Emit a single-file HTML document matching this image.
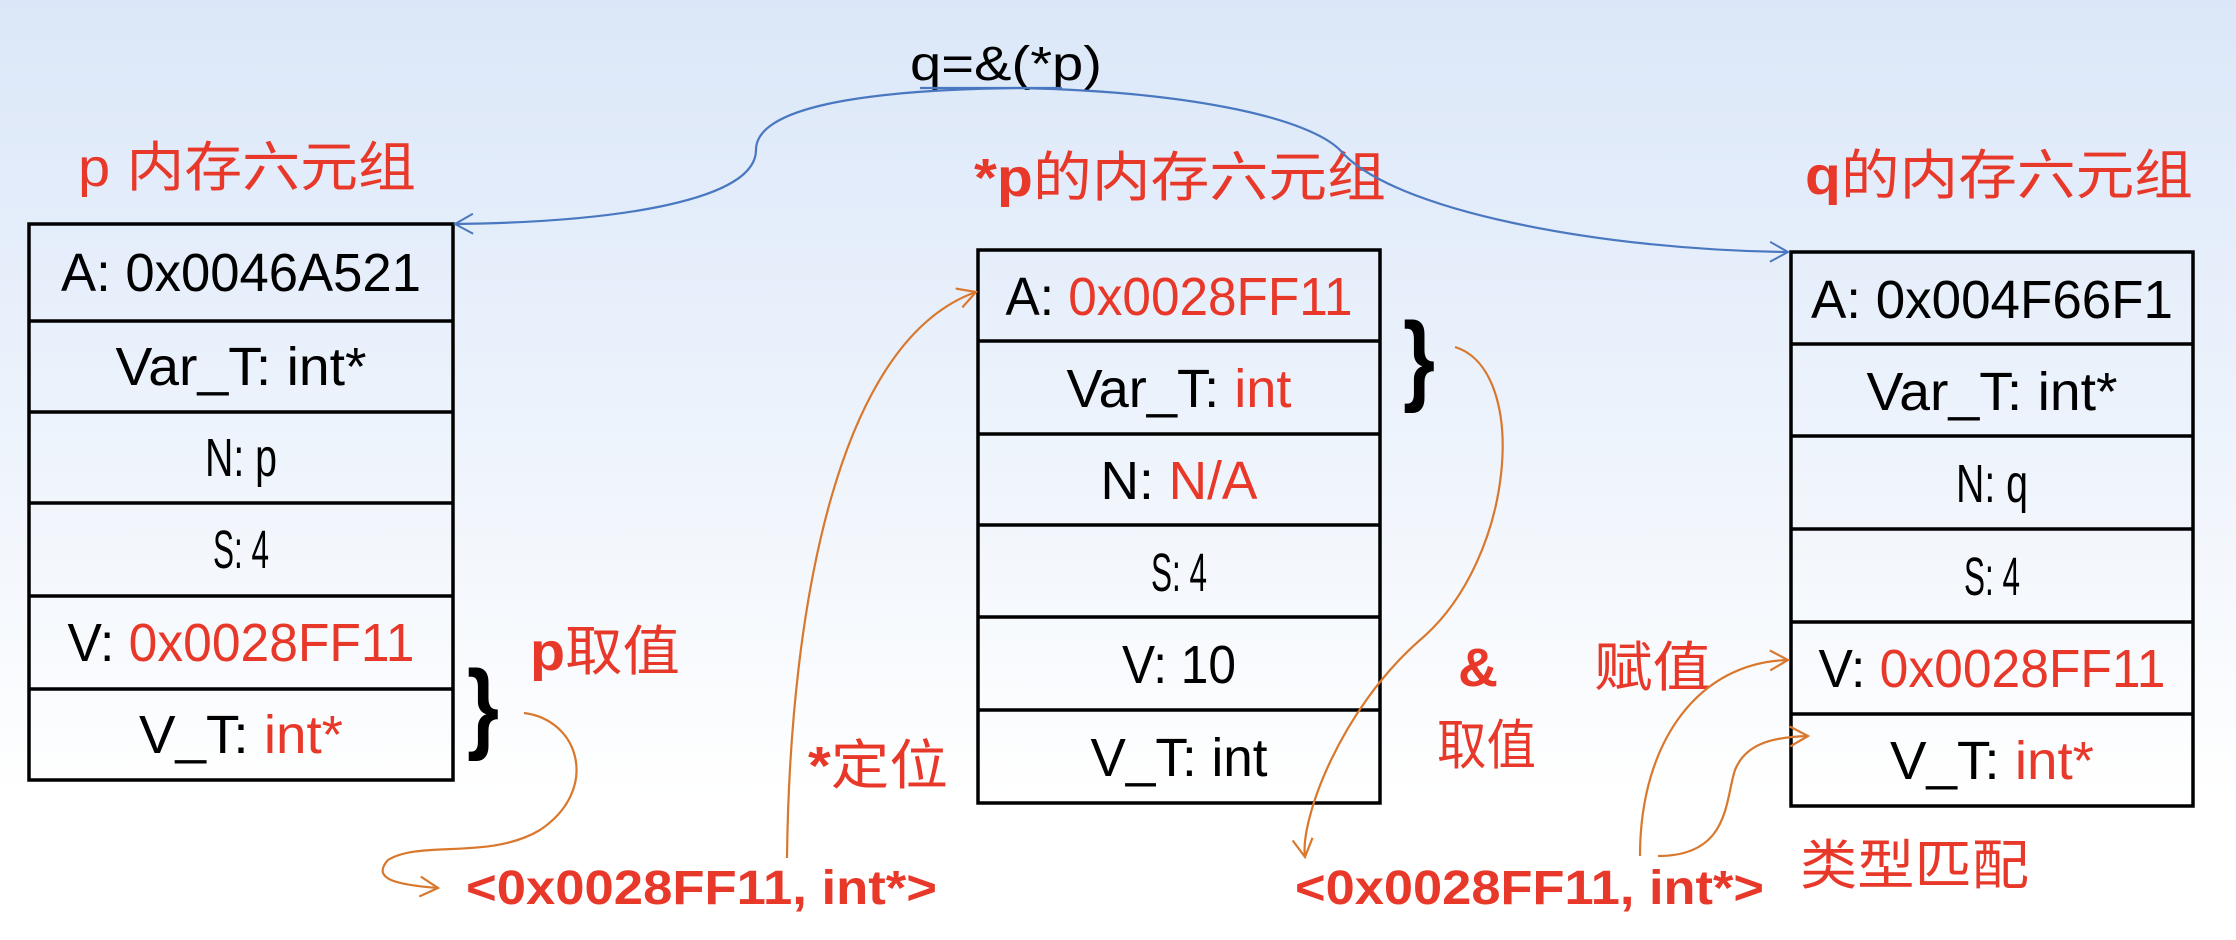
<!DOCTYPE html>
<html><head><meta charset="utf-8"><style>
html,body{margin:0;padding:0;}
body{width:2236px;height:940px;overflow:hidden;background:linear-gradient(180deg,#dbe7f8 0%,#e8f0fb 35%,#f6f9fd 65%,#ffffff 85%);}
svg{display:block;}
text{font-family:"Liberation Sans","Noto Sans CJK SC",sans-serif;}
.r{fill:#e8382a;}
</style></head><body>
<svg width="2236" height="940" viewBox="0 0 2236 940" xmlns="http://www.w3.org/2000/svg">
<defs>
<marker id="ab" markerWidth="30" markerHeight="30" refX="22" refY="12" orient="auto" markerUnits="userSpaceOnUse"><polyline points="4,2 22,12 4,22" fill="none" stroke="#4a78c0" stroke-width="2"/></marker>
<marker id="ao" markerWidth="30" markerHeight="30" refX="22" refY="12" orient="auto" markerUnits="userSpaceOnUse"><polyline points="4,2 22,12 4,22" fill="none" stroke="#d9782d" stroke-width="2.2"/></marker>
</defs>
<g fill="none" stroke="#000" stroke-width="3.5">
<rect x="29" y="224" width="424" height="556"/>
<path d="M29 321H453M29 412H453M29 503H453M29 596H453M29 689H453"/>
<rect x="978" y="250" width="402" height="553"/>
<path d="M978 341H1380M978 434H1380M978 525H1380M978 617H1380M978 710H1380"/>
<rect x="1791" y="252" width="402" height="554"/>
<path d="M1791 344H2193M1791 436H2193M1791 529H2193M1791 622H2193M1791 714H2193"/>
</g>
<g font-size="54" text-anchor="middle" fill="#000">
<text x="241" y="291" textLength="360" lengthAdjust="spacingAndGlyphs">A: 0x0046A521</text>
<text x="241" y="385" textLength="251" lengthAdjust="spacingAndGlyphs">Var_T: int*</text>
<text x="241" y="476" textLength="72" lengthAdjust="spacingAndGlyphs">N: p</text>
<text x="241" y="568" textLength="56" lengthAdjust="spacingAndGlyphs">S: 4</text>
<text x="241" y="661" textLength="347" lengthAdjust="spacingAndGlyphs">V: <tspan class="r">0x0028FF11</tspan></text>
<text x="241" y="753" textLength="204" lengthAdjust="spacingAndGlyphs">V_T: <tspan class="r">int*</tspan></text>

<text x="1179" y="315" textLength="347" lengthAdjust="spacingAndGlyphs">A: <tspan class="r">0x0028FF11</tspan></text>
<text x="1179" y="407" textLength="225" lengthAdjust="spacingAndGlyphs">Var_T: <tspan class="r">int</tspan></text>
<text x="1179" y="499" textLength="157" lengthAdjust="spacingAndGlyphs">N: <tspan class="r">N/A</tspan></text>
<text x="1179" y="591" textLength="56" lengthAdjust="spacingAndGlyphs">S: 4</text>
<text x="1179" y="683" textLength="114" lengthAdjust="spacingAndGlyphs">V: 10</text>
<text x="1179" y="776" textLength="177" lengthAdjust="spacingAndGlyphs">V_T: int</text>

<text x="1992" y="318" textLength="362" lengthAdjust="spacingAndGlyphs">A: 0x004F66F1</text>
<text x="1992" y="410" textLength="251" lengthAdjust="spacingAndGlyphs">Var_T: int*</text>
<text x="1992" y="502" textLength="72" lengthAdjust="spacingAndGlyphs">N: q</text>
<text x="1992" y="595" textLength="56" lengthAdjust="spacingAndGlyphs">S: 4</text>
<text x="1992" y="687" textLength="347" lengthAdjust="spacingAndGlyphs">V: <tspan class="r">0x0028FF11</tspan></text>
<text x="1992" y="779" textLength="204" lengthAdjust="spacingAndGlyphs">V_T: <tspan class="r">int*</tspan></text>
</g>
<text x="910" y="80" font-size="48" textLength="192" lengthAdjust="spacingAndGlyphs">q=&amp;(*p)</text>
<g class="r" font-size="54">
<text x="78" y="186" textLength="338" lengthAdjust="spacingAndGlyphs">p 内存六元组</text>
<text x="974" y="196" textLength="412" lengthAdjust="spacingAndGlyphs"><tspan font-weight="bold">*p</tspan>的内存六元组</text>
<text x="1805" y="194" textLength="388" lengthAdjust="spacingAndGlyphs"><tspan font-weight="bold">q</tspan>的内存六元组</text>
<text x="530" y="670" textLength="150" lengthAdjust="spacingAndGlyphs"><tspan font-weight="bold">p</tspan>取值</text>
<text x="808" y="784" textLength="140" lengthAdjust="spacingAndGlyphs"><tspan font-weight="bold">*</tspan>定位</text>
<text x="1458" y="686" font-weight="bold" textLength="40" lengthAdjust="spacingAndGlyphs">&amp;</text>
<text x="1437" y="764" textLength="99" lengthAdjust="spacingAndGlyphs">取值</text>
<text x="1594" y="686" textLength="117" lengthAdjust="spacingAndGlyphs">赋值</text>
<text x="1800" y="884" textLength="229" lengthAdjust="spacingAndGlyphs">类型匹配</text>
<text x="466" y="904" font-weight="bold" font-size="48" textLength="471" lengthAdjust="spacingAndGlyphs">&lt;0x0028FF11, int*&gt;</text>
<text x="1295" y="904" font-weight="bold" font-size="48" textLength="469" lengthAdjust="spacingAndGlyphs">&lt;0x0028FF11, int*&gt;</text>
</g>
<text x="467" y="740" font-size="100" font-weight="bold" textLength="32" lengthAdjust="spacingAndGlyphs">}</text>
<text x="1403" y="392" font-size="100" font-weight="bold" textLength="32" lengthAdjust="spacingAndGlyphs">}</text>
<g fill="none" stroke="#4a78c0" stroke-width="2.2">
<path d="M920 88H1062"/>
<path d="M1020 88 C850 90 756 110 756 150 C756 200 620 222 455 224" marker-end="url(#ab)"/>
<path d="M1020 88 C1200 92 1310 120 1340 150 C1390 210 1600 250 1788 252" marker-end="url(#ab)"/>
</g>
<g fill="none" stroke="#d9782d" stroke-width="2.2">
<path d="M524 713 C580 720 600 790 540 830 C490 860 420 840 388 860 C370 880 400 885 438 888" marker-end="url(#ao)"/>
<path d="M787 858 C790 600 840 340 976 292" marker-end="url(#ao)"/>
<path d="M1455 347 C1530 370 1515 560 1420 640 C1340 710 1300 820 1305 857" marker-end="url(#ao)"/>
<path d="M1640 856 C1640 740 1700 662 1788 660" marker-end="url(#ao)"/>
<path d="M1658 856 C1730 856 1725 800 1735 770 C1745 745 1770 737 1808 736" marker-end="url(#ao)"/>
</g>
</svg>
</body></html>
